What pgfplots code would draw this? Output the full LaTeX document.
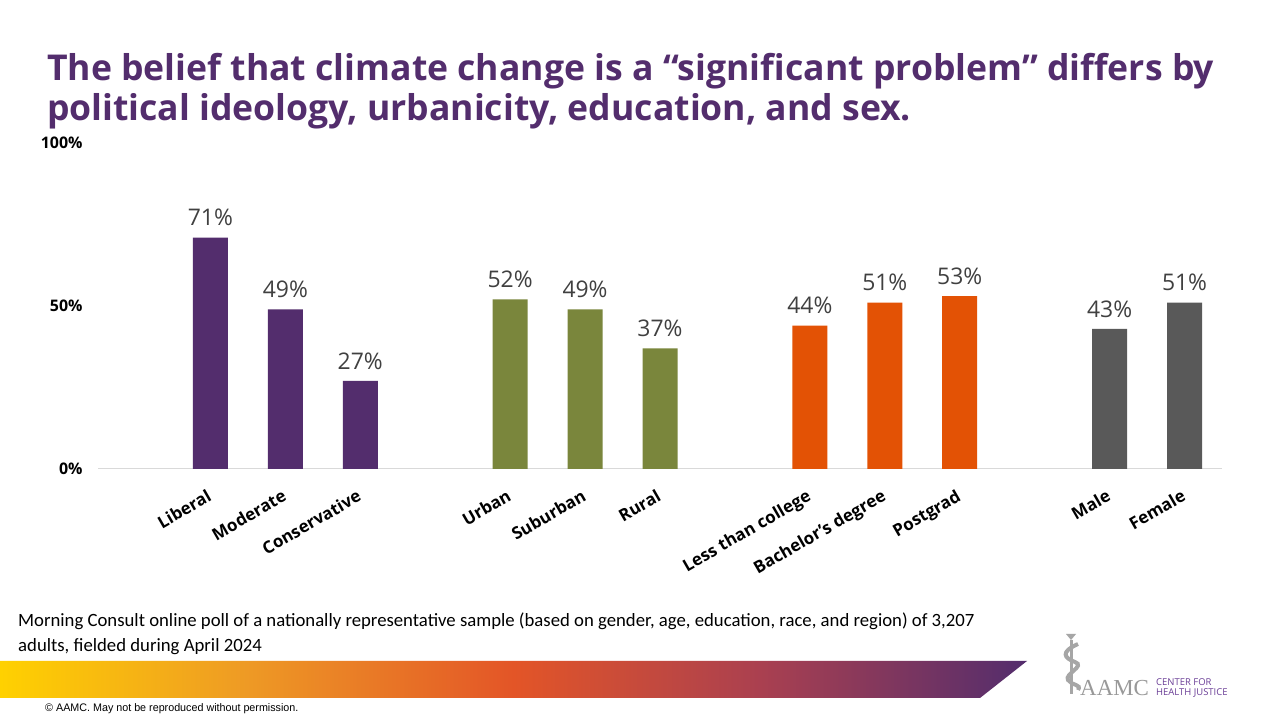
\documentclass[border=0pt]{standalone}
\usepackage{fontspec}
\setmainfont{Open Sans}
\newfontfamily\calfont{Carlito}
\newfontfamily\serffont{Liberation Serif}
\newfontfamily\narrowfont[FakeStretch=0.98]{Liberation Sans}
\usepackage{pgfplots}
\pgfplotsset{compat=1.18}

\definecolor{aamcpurple}{HTML}{532D6D}
\definecolor{olivebar}{HTML}{7A863C}
\definecolor{orangebar}{HTML}{E35205}
\definecolor{graybar}{HTML}{595959}
\definecolor{labelgray}{HTML}{404040}
\definecolor{logopurple}{HTML}{6A3D96}
\definecolor{baseline}{HTML}{D9D9D9}
\definecolor{gA}{HTML}{FFD100}
\definecolor{gB}{HTML}{EE9A25}
\definecolor{gC}{HTML}{E35527}
\definecolor{gD}{HTML}{AA4050}
\definecolor{gE}{HTML}{532D6D}

\pgfdeclarehorizontalshading{aamcbar}{100bp}{%
  color(0bp)=(gA); color(25bp)=(gA); color(37bp)=(gB); color(50bp)=(gC);
  color(62bp)=(gD); color(75bp)=(gE); color(100bp)=(gE)}

\begin{document}
\begin{tikzpicture}
\path[fill=white] (0bp,0bp) rectangle (1280bp,720bp);

% title
\node[anchor=base west, inner sep=0pt, text=aamcpurple, font=\fontsize{35.7}{40}\selectfont\bfseries]
  at (47bp,639bp) {The belief that climate change is a “significant problem” differs by};
\node[anchor=base west, inner sep=0pt, text=aamcpurple, font=\fontsize{35.7}{40}\selectfont\bfseries]
  at (47bp,599bp) {political ideology, urbanicity, education, and sex.};

\begin{axis}[
  at={(98bp,251bp)}, anchor=south west,
  scale only axis, width=1124bp, height=326bp,
  xmin=-0.5, xmax=14.5, ymin=0, ymax=100,
  ybar, bar width=35bp, bar shift=0pt,
  axis line style={draw=none},
  major tick length=0pt,
  /pgf/number format/assume math mode=true,
  ytick={0,50,100}, yticklabels={0\%,50\%,100\%},
  yticklabel style={font=\fontsize{16}{19}\selectfont\bfseries, anchor=east, xshift=-12bp},
  xtick={1,2,3,5,6,7,9,10,11,13,14},
  xticklabels={Liberal,Moderate,Conservative,Urban,Suburban,Rural,Less than college,Bachelor's degree,Postgrad,Male,Female},
  xticklabel style={font=\fontsize{17}{20}\selectfont\bfseries, yshift=-15bp, xshift=-3bp, rotate=30, anchor=north east},
  nodes near coords={\pgfmathprintnumber{\pgfplotspointmeta}\%},
  every node near coord/.append style={font=\fontsize{23}{27}\selectfont, text=labelgray, yshift=8bp},
  clip=false,
]
\draw[color=baseline, line width=1bp] (axis cs:-0.5,0) -- (axis cs:14.5,0);
\addplot[fill=aamcpurple, draw=none] coordinates {(1,71) (2,49) (3,27)};
\addplot[fill=olivebar, draw=none] coordinates {(5,52) (6,49) (7,37)};
\addplot[fill=orangebar, draw=none] coordinates {(9,44) (10,51) (11,53)};
\addplot[fill=graybar, draw=none] coordinates {(13,43) (14,51)};
\end{axis}

% footnote
\node[anchor=base west, inner sep=0pt, font=\calfont\fontsize{18.8}{22}\selectfont]
  at (18bp,93bp) {Morning Consult online poll of a nationally representative sample (based on gender, age, education, race, and region) of 3,207};
\node[anchor=base west, inner sep=0pt, font=\calfont\fontsize{18.8}{22}\selectfont]
  at (18bp,68bp) {adults, fielded during April 2024};

% gradient band
\shade[shading=aamcbar] (0bp,59bp) -- (1027bp,59bp) -- (980bp,22bp) -- (0bp,22bp) -- cycle;

\node[anchor=base west, inner sep=0pt, font=\narrowfont\fontsize{11}{13}\selectfont]
  at (45bp,9bp) {© AAMC. May not be reproduced without permission.};

% logo
\fill[gray!70] (1066bp,86bp) -- (1076bp,86bp) -- (1071bp,80bp) -- cycle;
\draw[gray!70, line width=3bp] (1071bp,80bp) -- (1071bp,26bp);
\draw[gray!70, line width=4bp] (1078bp,76bp) .. controls (1060bp,68bp) and (1064bp,62bp) .. (1075bp,58bp)
  .. controls (1086bp,54bp) and (1064bp,46bp) .. (1068bp,40bp) .. controls (1072bp,34bp) and (1082bp,36bp) .. (1078bp,30bp);
\node[anchor=base west, inner sep=0pt, text=gray!80, font=\serffont\fontsize{23}{26}\selectfont]
  at (1080bp,25bp) {AAMC};
\node[anchor=base west, inner sep=0pt, text=logopurple, font=\fontsize{9.5}{11}\selectfont]
  at (1156bp,35bp) {CENTER FOR};
\node[anchor=base west, inner sep=0pt, text=logopurple, font=\fontsize{9.5}{11}\selectfont]
  at (1156bp,25bp) {HEALTH JUSTICE};
\end{tikzpicture}
\end{document}
